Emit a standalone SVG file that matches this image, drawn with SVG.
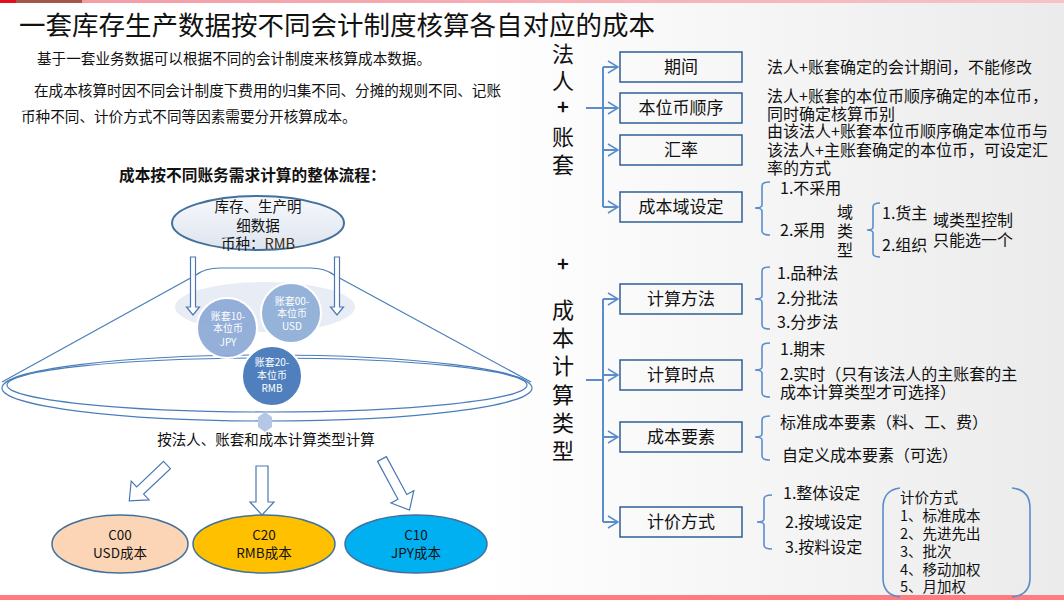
<svg xmlns="http://www.w3.org/2000/svg" width="1064" height="600" viewBox="0 0 1064 600">
<defs>
<linearGradient id="bg" x1="0" y1="0" x2="1" y2="0">
<stop offset="0" stop-color="#ffffff"/>
<stop offset="0.45" stop-color="#ffffff"/>
<stop offset="1" stop-color="#ebebeb"/>
</linearGradient>
<linearGradient id="topbar" x1="0" y1="0" x2="1" y2="0">
<stop offset="0" stop-color="#f49aa2"/>
<stop offset="1" stop-color="#f7c3c7"/>
</linearGradient>
<linearGradient id="srcfill" x1="0" y1="0" x2="0" y2="1">
<stop offset="0" stop-color="#f7f9fc"/>
<stop offset="1" stop-color="#dde4ef"/>
</linearGradient>
<style>
text{font-family:'Noto Sans CJK SC','Noto Sans',sans-serif;fill:#111}
.title{font-size:26.5px}
.para{font-size:14.6px}
.head{font-size:15.7px;font-weight:bold}
.lbl{font-size:22px;text-anchor:middle}
.plus{font-size:20px;font-weight:bold;text-anchor:middle}
.box{fill:none;stroke:#2f5f95;stroke-width:1.5}
.btxt{font-size:17px;text-anchor:middle}
.desc{font-size:16px}
.sm{font-size:14.5px}
.conn{fill:none;stroke:#5b8ccc;stroke-width:2}
.chev{fill:none;stroke:#5b8ccc;stroke-width:1.5}
.brace{fill:none;stroke:#5b8ccc;stroke-width:1.6}
.harrow{fill:#ffffff;stroke:#4a78b5;stroke-width:1.2}
.circ{stroke:#ffffff;stroke-width:2}
.ctxt{font-size:10px;fill:#ffffff;text-anchor:middle}
.res{stroke:#41719c;stroke-width:1.5}
.rtxt{font-size:13.5px;text-anchor:middle}
.funnel{fill:none;stroke:#4a7ebb;stroke-width:1.2}
</style>
</defs>
<rect x="0" y="0" width="1064" height="600" fill="url(#bg)"/>
<rect x="0" y="0" width="1064" height="3" fill="url(#topbar)"/>
<rect x="0" y="0" width="16" height="3" fill="#e2101e"/>
<rect x="16" y="0" width="66" height="3" fill="#a4584a"/>
<rect x="0" y="595" width="1064" height="5" fill="#ff7c80"/>

<text class="title" x="19" y="35">一套库存生产数据按不同会计制度核算各自对应的成本</text>
<text class="para" x="37" y="64">基于一套业务数据可以根据不同的会计制度来核算成本数据。</text>
<text class="para" x="34" y="96">在成本核算时因不同会计制度下费用的归集不同、分摊的规则不同、记账</text>
<text class="para" x="21" y="122">币种不同、计价方式不同等因素需要分开核算成本。</text>
<text class="head" x="119" y="181">成本按不同账务需求计算的整体流程：</text>

<g id="funnel">
<ellipse cx="265" cy="307" rx="90" ry="25" fill="#e8ecf4"/>
<path class="funnel" d="M 2,382 L 196,275 Q 205,268 220,268 L 310,268 Q 325,268 334,275 L 531,382"/>
<ellipse class="funnel" cx="267" cy="388" rx="265" ry="33"/>
<ellipse class="funnel" cx="267" cy="385" rx="260" ry="27"/>
<polygon points="265,412 272,417 272,427 265,432 258,427 258,417" fill="#b4c7e7"/>
</g>

<g id="source">
<ellipse cx="258" cy="223" rx="86" ry="27" fill="url(#srcfill)" stroke="#41719c" stroke-width="2"/>
<text class="sm" x="258" y="212" text-anchor="middle">库存、生产明</text>
<text class="sm" x="258" y="231" text-anchor="middle">细数据</text>
<text class="sm" x="258" y="249" text-anchor="middle">币种：<tspan fill="#3b2a10">RMB</tspan></text>
</g>

<g id="book10">
<circle class="circ" cx="227" cy="328" r="30" fill="#8eabd6" fill-opacity="0.95"/>
<text class="ctxt" x="228" y="320">账套10-</text>
<text class="ctxt" x="228" y="332">本位币</text>
<text class="ctxt" x="228" y="346">JPY</text>
</g>
<g id="book00">
<circle class="circ" cx="291" cy="313" r="30" fill="#95b3d9"/>
<text class="ctxt" x="292" y="305">账套00-</text>
<text class="ctxt" x="292" y="317">本位币</text>
<text class="ctxt" x="292" y="330">USD</text>
</g>
<g id="book20">
<circle class="circ" cx="272" cy="376" r="30" fill="#4f7fbd"/>
<text class="ctxt" x="272" y="366">账套20-</text>
<text class="ctxt" x="272" y="379">本位币</text>
<text class="ctxt" x="272" y="392">RMB</text>
</g>

<text class="sm" x="266" y="445" text-anchor="middle">按法人、账套和成本计算类型计算</text>

<g id="c00">
<ellipse class="res" cx="120" cy="544" rx="68" ry="29" fill="#fbd5b5"/>
<text class="rtxt" x="120" y="540">C00</text>
<text class="rtxt" x="120" y="558">USD成本</text>
</g>
<g id="c20">
<ellipse class="res" cx="264" cy="544" rx="71" ry="29" fill="#ffc000"/>
<text class="rtxt" x="264" y="540">C20</text>
<text class="rtxt" x="264" y="558">RMB成本</text>
</g>
<g id="c10">
<ellipse class="res" cx="416" cy="544" rx="71" ry="29" fill="#00b0f0"/>
<text class="rtxt" x="416" y="540">C10</text>
<text class="rtxt" x="416" y="558">JPY成本</text>
</g>

<g id="legal-label">
<text class="lbl" x="563" y="62">法</text>
<text class="lbl" x="563" y="89">人</text>
<text class="plus" x="563" y="114">+</text>
<text class="lbl" x="563" y="145">账</text>
<text class="lbl" x="563" y="173">套</text>
</g>
<text class="plus" x="563" y="271">+</text>
<g id="costtype-label">
<text class="lbl" x="563" y="318">成</text>
<text class="lbl" x="563" y="346">本</text>
<text class="lbl" x="563" y="374">计</text>
<text class="lbl" x="563" y="403">算</text>
<text class="lbl" x="563" y="431">类</text>
<text class="lbl" x="563" y="459">型</text>
</g>

<g id="connectors">
<polygon class="harrow" points="190.5,257 195.5,257 195.5,307 199.5,307 193,315 186.5,307 190.5,307"/>
<polygon class="harrow" points="334.5,257 339.5,257 339.5,307 343.5,307 337,315 330.5,307 334.5,307"/>
<polygon class="harrow" points="256,466 268,466 268,502 274,502 262,515 250,502 256,502"/>
<polygon class="harrow" transform="translate(167,465) rotate(46.5)" points="-5,0 5,0 5,37 13,37 0,52 -13,37 -5,37"/>
<polygon class="harrow" transform="translate(382,459) rotate(-28.3)" points="-5,0 5,0 5,43 13,43 0,58 -13,43 -5,43"/>

<path class="conn" d="M 586,108 L 603,108 M 603,67 L 603,207 M 603,67 L 617,67 M 603,150 L 617,150 M 603,207 L 617,207 M 603,108 L 617,108"/>
<path class="chev" d="M 608,61 L 618,67 L 608,73 M 608,102 L 618,108 L 608,114 M 608,144 L 618,150 L 608,156 M 608,201 L 618,207 L 608,213"/>
<path class="conn" d="M 586,380 L 603,380 M 603,299 L 603,522 M 603,299 L 617,299 M 603,375 L 617,375 M 603,437 L 617,437 M 603,522 L 617,522"/>
<path class="chev" d="M 608,293 L 618,299 L 608,305 M 608,369 L 618,375 L 608,381 M 608,431 L 618,437 L 608,443 M 608,516 L 618,522 L 608,528"/>

<path class="brace" d="M 770,182 Q 762,182 762,186 L 762,205 Q 762,208 755,208 Q 762,208 762,211 L 762,231 Q 762,235 770,235"/>
<path class="brace" d="M 880,203 Q 873,203 873,207 L 873,227 Q 873,230 867,230 Q 873,230 873,233 L 873,253 Q 873,257 880,257"/>
<path class="brace" d="M 770,267 Q 762,267 762,271 L 762,296 Q 762,299 755,299 Q 762,299 762,302 L 762,325 Q 762,329 770,329"/>
<path class="brace" d="M 770,343 Q 762,343 762,347 L 762,367 Q 762,370 755,370 Q 762,370 762,373 L 762,393 Q 762,397 770,397"/>
<path class="brace" d="M 770,416 Q 762,416 762,420 L 762,434 Q 762,437 755,437 Q 762,437 762,440 L 762,456 Q 762,460 770,460"/>
<path class="brace" d="M 772,495 Q 764,495 764,499 L 764,519 Q 764,522 757,522 Q 764,522 764,525 L 764,545 Q 764,549 772,549"/>
<path class="brace" d="M 900,488 Q 883,490 883,508 L 883,578 Q 883,595 900,597 M 1012,488 Q 1030,490 1030,508 L 1030,578 Q 1030,595 1012,597"/>
</g>

<g id="period">
<rect class="box" x="620" y="52" width="122" height="30"/>
<text class="btxt" x="681" y="73">期间</text>
</g>
<g id="currency-order">
<rect class="box" x="620" y="93" width="122" height="30"/>
<text class="btxt" x="681" y="114">本位币顺序</text>
</g>
<g id="rate">
<rect class="box" x="620" y="135" width="122" height="30"/>
<text class="btxt" x="681" y="156">汇率</text>
</g>
<g id="cost-domain">
<rect class="box" x="620" y="192" width="122" height="30"/>
<text class="btxt" x="681" y="213">成本域设定</text>
</g>
<g id="calc-method">
<rect class="box" x="620" y="284" width="122" height="30"/>
<text class="btxt" x="681" y="305">计算方法</text>
</g>
<g id="calc-time">
<rect class="box" x="620" y="360" width="122" height="30"/>
<text class="btxt" x="681" y="381">计算时点</text>
</g>
<g id="cost-element">
<rect class="box" x="620" y="422" width="122" height="30"/>
<text class="btxt" x="681" y="443">成本要素</text>
</g>
<g id="pricing">
<rect class="box" x="620" y="507" width="122" height="30"/>
<text class="btxt" x="681" y="528">计价方式</text>
</g>

<g id="descs">
<text class="desc" x="767" y="73">法人+账套确定的会计期间，不能修改</text>
<text class="desc" x="767" y="102">法人+账套的本位币顺序确定的本位币，</text>
<text class="desc" x="767" y="120">同时确定核算币别</text>
<text class="desc" x="767" y="137">由该法人+账套本位币顺序确定本位币与</text>
<text class="desc" x="767" y="156">该法人+主账套确定的本位币，可设定汇</text>
<text class="desc" x="767" y="174">率的方式</text>
<text class="desc" x="780" y="194">1.不采用</text>
<text class="desc" x="780" y="236">2.采用</text>
<text class="desc" x="845" y="218" text-anchor="middle">域</text>
<text class="desc" x="845" y="237" text-anchor="middle">类</text>
<text class="desc" x="845" y="256" text-anchor="middle">型</text>
<text class="desc" x="882" y="219">1.货主</text>
<text class="desc" x="882" y="251">2.组织</text>
<text class="desc" x="933" y="226">域类型控制</text>
<text class="desc" x="933" y="246">只能选一个</text>
<text class="desc" x="777" y="279">1.品种法</text>
<text class="desc" x="777" y="304">2.分批法</text>
<text class="desc" x="777" y="328">3.分步法</text>
<text class="desc" x="780" y="355">1.期末</text>
<text class="desc" x="780" y="380">2.实时（只有该法人的主账套的主</text>
<text class="desc" x="780" y="398">成本计算类型才可选择）</text>
<text class="desc" x="780" y="428">标准成本要素（料、工、费）</text>
<text class="desc" x="782" y="461">自定义成本要素（可选）</text>
<text class="desc" x="783" y="499">1.整体设定</text>
<text class="desc" x="785" y="528">2.按域设定</text>
<text class="desc" x="785" y="553">3.按料设定</text>
<text class="sm" x="900" y="503">计价方式</text>
<text class="sm" x="900" y="521">1、标准成本</text>
<text class="sm" x="900" y="539">2、先进先出</text>
<text class="sm" x="900" y="557">3、批次</text>
<text class="sm" x="900" y="575">4、移动加权</text>
<text class="sm" x="900" y="592">5、月加权</text>
</g>
</svg>
